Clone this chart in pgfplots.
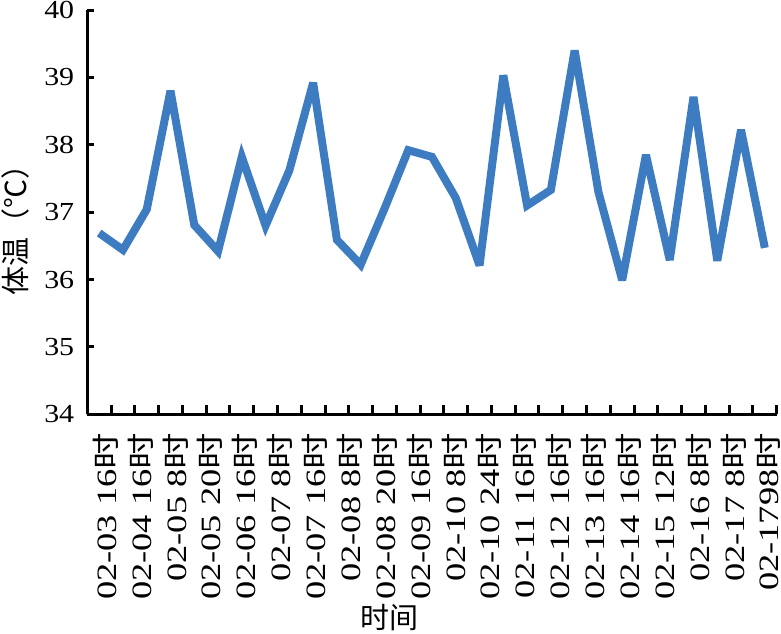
\documentclass[border=0pt]{standalone}
\usepackage{pgfplots}
\pgfplotsset{compat=1.18}
\usepackage{fontspec}
\setmainfont{Liberation Serif}
\newfontfamily\cjk{Noto Sans CJK SC}
\usetikzlibrary{calc}
\definecolor{lineblue}{RGB}{62,124,194}
\newcommand{\shi}{{\cjk 时}}
\begin{document}
\begin{tikzpicture}
\begin{axis}[
  width=344.7pt, height=202.15pt, scale only axis,
  xmin=-0.5, xmax=28.5, ymin=34, ymax=40,
  axis x line=bottom, axis y line=left,
  axis line style={-, line width=1.5pt, black},
  every outer x axis line/.append style={-},
  every outer y axis line/.append style={-},
  tick align=inside,
  ytick={34,35,...,40},
  major tick length=3.5pt,
  tick style={line width=1.5pt, black},
  xtick={0.27,1.737,3.204,4.671,6.138,7.605,9.072,10.539,12.006,13.473,14.94,16.407,17.874,19.341,20.808,22.275,23.742,25.209,26.676,28.143},
  x tick style={draw=none},
  minor xtick={-0.5,0.5,...,28.5},
  minor x tick style={draw=black, line width=1.5pt},
  minor tick length=4.5pt,
  xticklabels={02-03 16\shi,02-04 16\shi,02-05 8\shi,02-05 20\shi,02-06 16\shi,02-07 8\shi,02-07 16\shi,02-08 8\shi,02-08 20\shi,02-09 16\shi,02-10 8\shi,02-10 24\shi,02-11 16\shi,02-12 16\shi,02-13 16\shi,02-14 16\shi,02-15 12\shi,02-16 8\shi,02-17 8\shi,02-1798\shi},
  xticklabel style={rotate=90, xscale=1.3, anchor=east, font={\fontsize{14}{16}\selectfont}, inner sep=0pt, xshift=-7pt},
  yticklabel style={xscale=1.15, font={\fontsize{13}{14}\selectfont}, inner sep=0pt, xshift=-5.5pt},
  /pgf/number format/assume math mode=true,
  xlabel={\cjk 时间},
  xlabel style={at={(axis description cs:0.439,0)}, anchor=center, yshift=-101.8pt, font=\fontsize{14.5}{16}\selectfont},
  ylabel={{\cjk 体温（℃）}},
  ylabel style={at={(axis description cs:0,0.473)}, anchor=center, yshift=36pt, font=\fontsize{14.5}{16}\selectfont},
  clip=false,
]
\addplot[color=lineblue, line width=4pt, line join=miter, miter limit=4] coordinates {
(0,36.69) (1,36.44) (2,37.04) (3,38.80) (4,36.81) (5,36.42) (6,37.82) (7,36.80)
(8,37.62) (9,38.92) (10,36.59) (11,36.22) (12,37.05) (13,37.92) (14,37.82) (15,37.21)
(16,36.21) (17,39.03) (18,37.10) (19,37.33) (20,39.40) (21,37.30) (22,35.99) (23,37.85)
(24,36.29) (25,38.71) (26,36.28) (27,38.22) (28,36.47)
};
\end{axis}
\pgfresetboundingbox
\path ($(current axis.south west)+(-43.65pt,-109.35pt)$) rectangle ($(current axis.north east)+(2.15pt,5pt)$);
\end{tikzpicture}
\end{document}
